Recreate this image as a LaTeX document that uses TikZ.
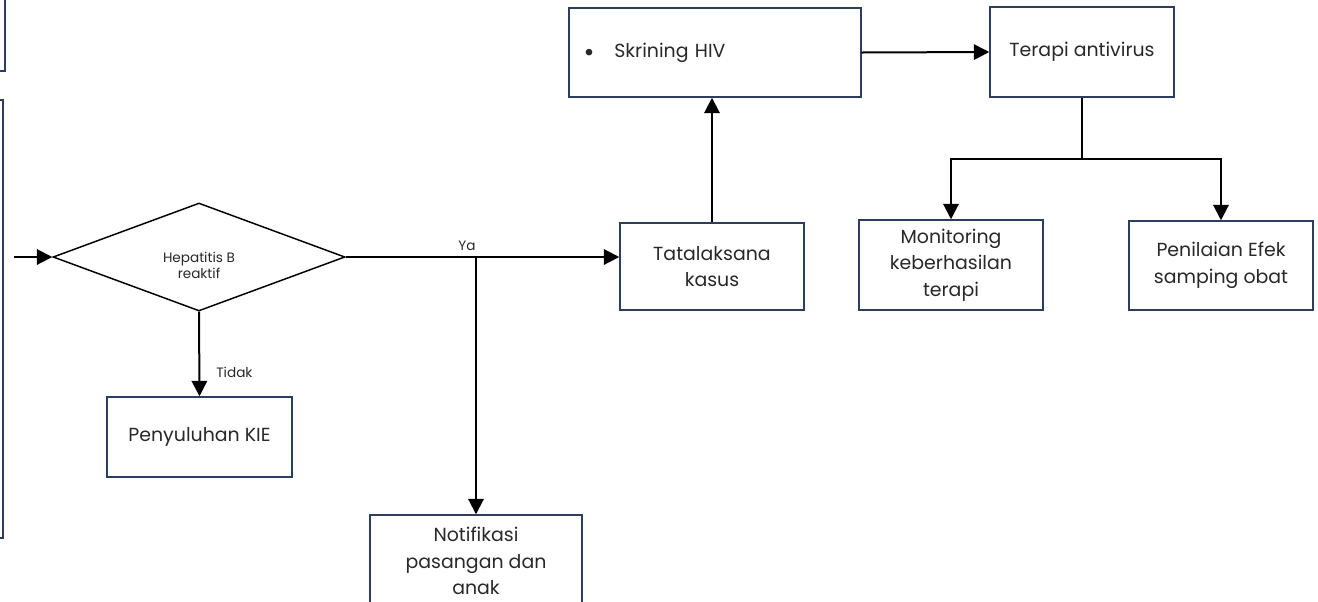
\documentclass[tikz,border=0pt]{standalone}
\usepackage{fontspec}
\setmainfont{Poppins}
\usetikzlibrary{shapes.geometric,arrows.meta}
\definecolor{boxc}{RGB}{44,62,94}
\definecolor{txt}{RGB}{40,40,40}
\begin{document}
\begin{tikzpicture}[x=0.75pt,y=-0.75pt,
  box/.style={draw=boxc, line width=1.1pt, fill=white, inner sep=0pt, align=center,
    font=\fontsize{14.2}{20}\selectfont, text=txt},
  conn/.style={line width=1.5pt, -{Triangle[length=11.5pt,width=11.5pt]}},
  lbl/.style={font=\fontsize{10.2}{12}\selectfont, text=txt, inner sep=0pt, align=center}]
\useasboundingbox (0,0) rectangle (1318,601);
% partial boxes at left edge
\node[box, minimum width=18.75pt, minimum height=68.25pt] (L1) at (-7.5,25.5) {};
\node[box, minimum width=17.25pt, minimum height=328.5pt] (L2) at (-8.5,319) {};
% decision
\node[diamond, draw=black, line width=1.1pt, minimum width=219pt, minimum height=81pt, inner sep=0pt] (dec) at (199,257) {};
\node[lbl] (dect) at (199,265) {Hepatitis B\\reaktif};
% boxes
\node[box, minimum width=138.75pt, minimum height=60pt] (pen) at (199.5,437) {Penyuluhan KIE};
\node[box, minimum width=159pt, minimum height=69pt] (notif) at (476,561) {Notifikasi\\pasangan dan\\anak};
\node[box, minimum width=138pt, minimum height=65.25pt] (tat) at (712,266.5) {Tatalaksana\\kasus};
\node[box, text width=197pt, inner xsep=11pt, minimum height=66.75pt, align=left] (skr) at (715,52.5) {\makebox[23pt][l]{\raisebox{-3.5pt}{\fontsize{20}{20}\selectfont •}}Skrining HIV};
\node[box, minimum width=138pt, minimum height=67.5pt] (ter) at (1082,52) {Terapi antivirus};
\node[box, minimum width=138pt, minimum height=67.5pt] (mon) at (951,265) {Monitoring\\keberhasilan\\terapi};
\node[box, minimum width=138pt, minimum height=66.75pt] (pnl) at (1221,265.5) {Penilaian Efek\\samping obat};
% connectors
\coordinate (in) at (14,257);
\coordinate (ya) at (476,257);
\coordinate (br) at (1082,159);
\draw[conn] (in) -- (dec.west);
\draw[conn] (dec.south) -- node[lbl, anchor=west, pos=0.72, xshift=12pt] (tidak) {Tidak} (pen.north);
\draw[conn] (dec.east) -- (dec.east -| tat.west);
\node[lbl] (yal) at (467,246) {Ya};
\draw[conn] (ya) -- (notif.north);
\draw[conn] (tat.north) -- (tat.north |- skr.south);
\draw[conn] (skr.east) -- (ter.west);
\draw[line width=1.5pt] (ter.south) -- (br);
\draw[conn] (br) -| (mon.north);
\draw[conn] (br) -| (pnl.north);
\end{tikzpicture}
\end{document}
